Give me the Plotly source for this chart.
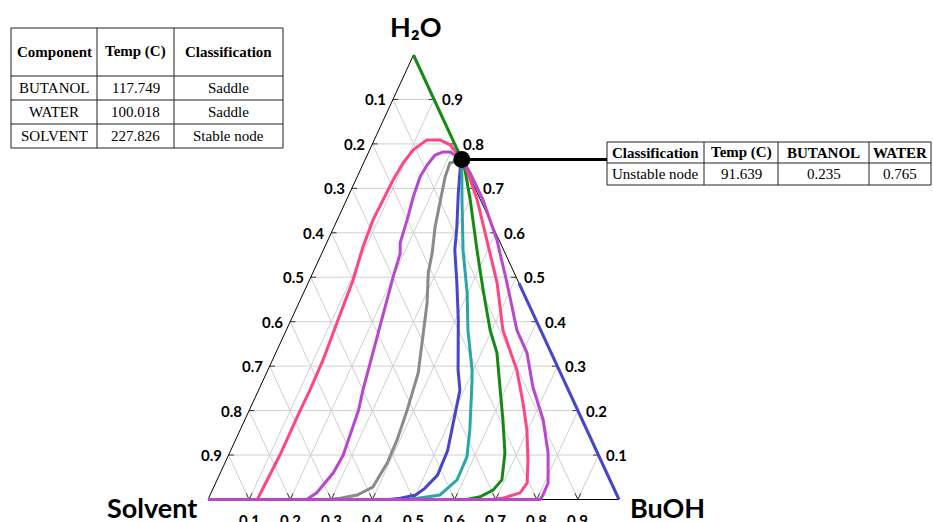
import plotly.graph_objects as go

FIG_W, FIG_H = 933, 522

# Pure-component singular points
COMPONENTS = ["BUTANOL", "WATER", "SOLVENT"]
COMP_TEMPS = ["117.749", "100.018", "227.826"]
COMP_CLASS = ["Saddle", "Saddle", "Stable node"]

# Azeotrope (unstable node) on the BuOH-H2O edge
NODE_CLASS = "Unstable node"
NODE_TEMP = "91.639"
NODE_BUOH = 0.235
NODE_WATER = 0.765

TICK_VALUES = [0.1, 0.2, 0.3, 0.4, 0.5, 0.6, 0.7, 0.8, 0.9]

# Residue curves as (BuOH, H2O) mole fractions; solvent = 1 - BuOH - H2O
C1_BUOH = [0.235, 0.190, 0.160, 0.128, 0.106, 0.096, 0.091, 0.089, 0.087, 0.093, 0.106, 0.115, 0.123, 0.125, 0.124, 0.125, 0.123, 0.120, 0.0]
C1_WATER = [0.765, 0.798, 0.809, 0.809, 0.786, 0.757, 0.719, 0.674, 0.629, 0.568, 0.494, 0.397, 0.314, 0.246, 0.195, 0.100, 0.050, 0.0, 0.0]

C2_BUOH = [0.235, 0.198, 0.181, 0.165, 0.157, 0.153, 0.159, 0.170, 0.179, 0.191, 0.200, 0.214, 0.228, 0.241, 0.254, 0.266, 0.279, 0.275, 0.257, 0.240, 0.0]
C2_WATER = [0.765, 0.782, 0.782, 0.775, 0.753, 0.726, 0.681, 0.629, 0.577, 0.553, 0.501, 0.433, 0.366, 0.307, 0.246, 0.200, 0.100, 0.060, 0.015, 0.0, 0.0]

C3_BUOH = [0.235, 0.210, 0.214, 0.228, 0.246, 0.268, 0.281, 0.312, 0.340, 0.369, 0.376, 0.384, 0.393, 0.395, 0.387, 0.358, 0.320, 0.290, 0.0]
C3_WATER = [0.765, 0.757, 0.726, 0.674, 0.613, 0.555, 0.510, 0.442, 0.366, 0.285, 0.246, 0.201, 0.134, 0.082, 0.028, 0.010, 0.003, 0.0, 0.0]

C4_BUOH = [0.235, 0.240, 0.264, 0.299, 0.320, 0.362, 0.407, 0.463, 0.490, 0.509, 0.528, 0.531, 0.515, 0.500, 0.467, 0.440, 0.0]
C4_WATER = [0.765, 0.748, 0.690, 0.613, 0.561, 0.487, 0.404, 0.291, 0.246, 0.180, 0.110, 0.055, 0.025, 0.010, 0.003, 0.0, 0.0]

C5_BUOH = [0.235, 0.247, 0.281, 0.340, 0.398, 0.442, 0.497, 0.508, 0.559, 0.582, 0.584, 0.559, 0.514, 0.490, 0.0]
C5_WATER = [0.765, 0.741, 0.674, 0.561, 0.465, 0.381, 0.291, 0.269, 0.156, 0.096, 0.044, 0.010, 0.003, 0.0, 0.0]

C6_BUOH = [0.235, 0.255, 0.301, 0.374, 0.434, 0.496, 0.538, 0.584, 0.628, 0.670, 0.693, 0.683, 0.659, 0.630, 0.0]
C6_WATER = [0.765, 0.741, 0.674, 0.561, 0.471, 0.381, 0.330, 0.253, 0.179, 0.105, 0.044, 0.021, 0.006, 0.0, 0.0]

C7_BUOH = [0.235, 0.265, 0.318, 0.387, 0.460, 0.527, 0.606, 0.658, 0.698, 0.734, 0.758, 0.752, 0.716, 0.690, 0.0]
C7_WATER = [0.765, 0.735, 0.674, 0.584, 0.487, 0.381, 0.291, 0.217, 0.156, 0.089, 0.037, 0.015, 0.003, 0.0, 0.0]

C8_BUOH = [0.235, 0.270, 0.332, 0.411, 0.484, 0.561, 0.611, 0.664, 0.726, 0.775, 0.809, 0.810, 0.808, 0.0]
C8_WATER = [0.765, 0.735, 0.674, 0.584, 0.487, 0.381, 0.330, 0.253, 0.179, 0.105, 0.037, 0.010, 0.0, 0.0]

# Curves running along the BuOH-H2O edge
EDGE_UP_BUOH = [0.0, 0.235]
EDGE_UP_WATER = [1.0, 0.765]
EDGE_DOWN_BUOH = [0.513, 1.0]
EDGE_DOWN_WATER = [0.487, 0.0]

PINK = "#ff4682"
PURPLE = "#b946cf"
GRAY = "#8a8a8a"
BLUE = "#4646c8"
TEAL = "#28a6a8"
GREEN = "#138a13"

CURVES = [
    (C1_BUOH, C1_WATER, PINK),
    (C2_BUOH, C2_WATER, PURPLE),
    (C3_BUOH, C3_WATER, GRAY),
    (C4_BUOH, C4_WATER, BLUE),
    (C5_BUOH, C5_WATER, TEAL),
    (C6_BUOH, C6_WATER, GREEN),
    (C7_BUOH, C7_WATER, PINK),
    (C8_BUOH, C8_WATER, PURPLE),
]

# Triangle placement in pixels: solvent corner, BuOH corner, apex height
LEFT_PX, RIGHT_PX = 208.0, 619.0
BASE_PY, APEX_PY = 499.5, 55.0
SPAN_X = RIGHT_PX - LEFT_PX
SPAN_Y = BASE_PY - APEX_PY


def tern(buoh, water):
    """Map (BuOH, H2O) fractions to the cartesian frame of the triangle."""
    xs = [None if b is None else b + 0.5 * w for b, w in zip(buoh, water)]
    ys = list(water)
    return xs, ys


def px_x(px):
    return (px - LEFT_PX) / SPAN_X


def paper_x(px):
    return px / FIG_W


def paper_y(py):
    return 1 - py / FIG_H


fig = go.Figure()

# Grid lines: constant H2O, constant BuOH, constant solvent
gb, gw = [], []
for t in TICK_VALUES:
    gb += [0.0, 1 - t, None]
    gw += [t, t, None]
    gb += [t, t, None]
    gw += [0.0, 1 - t, None]
    gb += [1 - t, 0.0, None]
    gw += [0.0, 1 - t, None]
gx, gy = tern(gb, gw)
fig.add_trace(go.Scatter(x=gx, y=gy, mode="lines", line=dict(color="#cfcfcf", width=1),
                         hoverinfo="skip", showlegend=False))

# Short ticks on the three sides
tb, tw = [], []
for t in TICK_VALUES:
    w = 1 - t
    tb += [0.0, 0.013, None]
    tw += [w, w, None]
    tb += [1 - t, 1 - t - 0.013, None]
    tw += [t, t, None]
    tb += [t, t, None, t, t - 0.014, None]
    tw += [0.0, 0.014, None, 0.0, 0.014, None]
tx, ty = tern(tb, tw)
fig.add_trace(go.Scatter(x=tx, y=ty, mode="lines", line=dict(color="#333333", width=1),
                         hoverinfo="skip", showlegend=False))

# Triangle outline
ox, oy = tern([0.0, 1.0, 0.0, 0.0], [0.0, 0.0, 1.0, 0.0])
fig.add_trace(go.Scatter(x=ox, y=oy, mode="lines", line=dict(color="black", width=1),
                         hoverinfo="skip", showlegend=False))

# Residue curves
for b, w, col in CURVES:
    x, y = tern(b, w)
    fig.add_trace(go.Scatter(x=x, y=y, mode="lines", line=dict(color=col, width=3),
                             hoverinfo="skip", showlegend=False))

ex, ey = tern(EDGE_UP_BUOH, EDGE_UP_WATER)
fig.add_trace(go.Scatter(x=ex, y=ey, mode="lines", line=dict(color=GREEN, width=3),
                         hoverinfo="skip", showlegend=False))
ex, ey = tern(EDGE_DOWN_BUOH, EDGE_DOWN_WATER)
fig.add_trace(go.Scatter(x=ex, y=ey, mode="lines", line=dict(color=BLUE, width=3),
                         hoverinfo="skip", showlegend=False))

# Leader from the azeotrope to its table, and the node itself
TABLE2_X = [607, 704, 778, 869, 931]
TABLE2_Y = [142, 163, 185]
nx, ny = tern([NODE_BUOH], [NODE_WATER])
fig.add_trace(go.Scatter(x=[nx[0], px_x(TABLE2_X[0])], y=[ny[0], ny[0]], mode="lines",
                         line=dict(color="black", width=3), hoverinfo="skip", showlegend=False))
fig.add_trace(go.Scatter(x=nx, y=ny, mode="markers", marker=dict(color="black", size=17),
                         hoverinfo="skip", showlegend=False))

annotations = []
LABEL_FONT = dict(family="Lato, 'Open Sans', sans-serif", size=15, color="black")

for t in TICK_VALUES:
    # left side: solvent fraction along the horizontal grid lines
    w = 1 - t
    annotations.append(dict(x=0.5 * w, y=w, xref="x", yref="y", text="<b>%.1f</b>" % t,
                            showarrow=False, xanchor="right", yanchor="middle", xshift=-5,
                            font=LABEL_FONT))
    # right side: water fraction
    annotations.append(dict(x=1 - 0.5 * t, y=t, xref="x", yref="y", text="<b>%.1f</b>" % t,
                            showarrow=False, xanchor="left", yanchor="middle", xshift=6,
                            font=LABEL_FONT))
    # bottom: BuOH fraction
    annotations.append(dict(x=t, y=0, xref="x", yref="y", text="<b>%.1f</b>" % t,
                            showarrow=False, xanchor="center", yanchor="top", yshift=-9,
                            font=LABEL_FONT))

CORNER_FONT = dict(family="Lato, 'Open Sans', sans-serif", size=27, color="black")
annotations.append(dict(x=paper_x(416), y=paper_y(27), xref="paper", yref="paper",
                        text="<b>H₂O</b>", showarrow=False, xanchor="center", yanchor="middle",
                        font=CORNER_FONT))
annotations.append(dict(x=paper_x(152), y=paper_y(507), xref="paper", yref="paper",
                        text="<b>Solvent</b>", showarrow=False, xanchor="center", yanchor="middle",
                        font=CORNER_FONT))
annotations.append(dict(x=paper_x(667), y=paper_y(507), xref="paper", yref="paper",
                        text="<b>BuOH</b>", showarrow=False, xanchor="center", yanchor="middle",
                        font=CORNER_FONT))

# Tables
TABLE_FONT = dict(family="'Liberation Serif', 'Times New Roman', serif", size=15, color="black")
shapes = []


def draw_table(xs, ys, rows, header_bold=True):
    for xv in xs:
        shapes.append(dict(type="line", xref="paper", yref="paper",
                           x0=paper_x(xv), x1=paper_x(xv), y0=paper_y(ys[0]), y1=paper_y(ys[-1]),
                           line=dict(color="#222222", width=1)))
    for yv in ys:
        shapes.append(dict(type="line", xref="paper", yref="paper",
                           x0=paper_x(xs[0]), x1=paper_x(xs[-1]), y0=paper_y(yv), y1=paper_y(yv),
                           line=dict(color="#222222", width=1)))
    for r, row in enumerate(rows):
        cy = (ys[r] + ys[r + 1]) / 2
        for c, txt in enumerate(row):
            cx = (xs[c] + xs[c + 1]) / 2
            label = "<b>%s</b>" % txt if (r == 0 and header_bold) else txt
            annotations.append(dict(x=paper_x(cx), y=paper_y(cy), xref="paper", yref="paper",
                                    text=label, showarrow=False, xanchor="center",
                                    yanchor="middle", font=TABLE_FONT))


rows1 = [["Component", "Temp (C)", "Classification"]]
for comp, temp, cls in zip(COMPONENTS, COMP_TEMPS, COMP_CLASS):
    rows1.append([comp, temp, cls])
draw_table([11, 97, 174, 283], [28, 76, 100, 124, 148], rows1)

rows2 = [["Classification", "Temp (C)", "BUTANOL", "WATER"],
         [NODE_CLASS, NODE_TEMP, "%.3f" % NODE_BUOH, "%.3f" % NODE_WATER]]
draw_table(TABLE2_X, TABLE2_Y, rows2)

fig.update_layout(
    width=FIG_W, height=FIG_H,
    margin=dict(l=0, r=0, t=0, b=0),
    paper_bgcolor="white", plot_bgcolor="white",
    xaxis=dict(visible=False, range=[px_x(0), px_x(FIG_W)], fixedrange=True),
    yaxis=dict(visible=False, range=[(BASE_PY - FIG_H) / SPAN_Y, BASE_PY / SPAN_Y], fixedrange=True),
    annotations=annotations,
    shapes=shapes,
    showlegend=False,
)

fig.write_html("out.html")
